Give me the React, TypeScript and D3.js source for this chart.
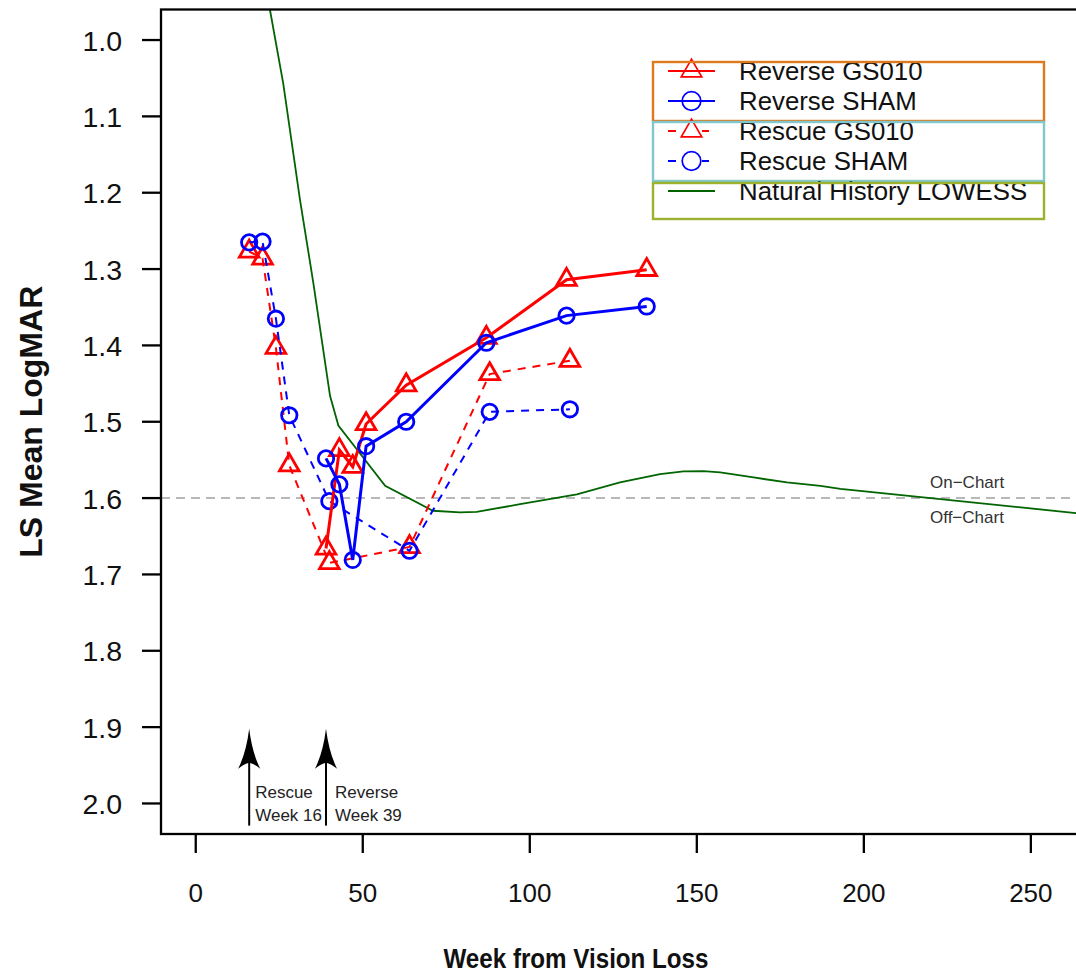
import React from "react";
import * as d3 from "d3";

// ---- Data ----
const reverseWeeks = [39, 43, 47, 51, 63, 87, 111, 135];
const reverseGS010 = [1.666, 1.537, 1.559, 1.503, 1.452, 1.39, 1.314, 1.301];
const reverseSHAM = [1.548, 1.582, 1.681, 1.532, 1.5, 1.3965, 1.361, 1.349];

const rescueWeeks = [16, 20, 24, 28, 40, 64, 88, 112];
const rescueGS010 = [1.277, 1.286, 1.403, 1.557, 1.685, 1.664, 1.4375, 1.42];
const rescueSHAM = [1.265, 1.264, 1.365, 1.4915, 1.604, 1.669, 1.487, 1.4837];

const nhWeeks = [20, 22.2, 26.2, 31.2, 35.2, 40.2, 42.7, 56.7, 71.0, 79.1, 84.1, 97.1, 114.1, 127.0, 139.0, 146.0, 152.0, 157.0, 167.0, 177.0, 187.0, 193.0, 220, 263.5, 275];
const nhValues = [0.905, 0.96, 1.057, 1.209, 1.318, 1.466, 1.505, 1.584, 1.6166, 1.6187, 1.618, 1.608, 1.595, 1.5795, 1.5686, 1.5651, 1.5647, 1.5664, 1.573, 1.5795, 1.584, 1.588, 1.6, 1.6196, 1.6245];

const xTicks = [0, 50, 100, 150, 200, 250];
const yTicks = [1.0, 1.1, 1.2, 1.3, 1.4, 1.5, 1.6, 1.7, 1.8, 1.9, 2.0];

const cutoff = 1.6;
const arrows = [
  { week: 16, lines: ["Rescue", "Week 16"], dx: 6 },
  { week: 39, lines: ["Reverse", "Week 39"], dx: 9 },
];

const legendGroups = [
  { color: "#DE7A1E", items: [
    { label: "Reverse GS010", color: "#FF0000", marker: "tri", dashed: false },
    { label: "Reverse SHAM", color: "#0000FF", marker: "circ", dashed: false },
  ] },
  { color: "#80C8CC", items: [
    { label: "Rescue GS010", color: "#FF0000", marker: "tri", dashed: true },
    { label: "Rescue SHAM", color: "#0000FF", marker: "circ", dashed: true },
  ] },
  { color: "#9CB12E", items: [
    { label: "Natural History LOWESS", color: "#006400", marker: "dot", dashed: false },
  ] },
];

const W = 1076;
const H = 978;
const FONT = "'Liberation Sans', Arial, Helvetica, sans-serif";

const left = 161;
const top = 9.5;
const bottom = 834;
const right = 1099;

const x = d3.scaleLinear().domain([-10.4, 270.4]).range([left, right]);
const y = d3.scaleLinear().domain([0.96, 2.04]).range([top, bottom]);

function triPath(cx: number, cy: number, s: number) {
  const r = 1.55512 * s, yc = 0.77756 * s, xc = 1.34677 * s;
  return `M${cx},${cy - r}L${cx + xc},${cy + yc}L${cx - xc},${cy + yc}Z`;
}

type Series = { weeks: number[]; values: number[]; color: string; marker: string; dashed: boolean };
const series: Series[] = [
  { weeks: rescueWeeks, values: rescueGS010, color: "#FF0000", marker: "tri", dashed: true },
  { weeks: rescueWeeks, values: rescueSHAM, color: "#0000FF", marker: "circ", dashed: true },
  { weeks: reverseWeeks, values: reverseGS010, color: "#FF0000", marker: "tri", dashed: false },
  { weeks: reverseWeeks, values: reverseSHAM, color: "#0000FF", marker: "circ", dashed: false },
];

export default function App() {
  const line = d3.line<[number, number]>().x((d) => x(d[0])).y((d) => y(d[1]));
  const nhPts: [number, number][] = nhWeeks.map((w, i) => [w, nhValues[i]]);

  const legX0 = 653, legX1 = 1044;
  const rowH = 30;
  let rowIdx = 0;
  const legendTop = 62;

  return (
    <svg width={W} height={H} style={{ position: "absolute", left: 0, top: 0, background: "#fff" }} fontFamily={FONT}>
      <rect x={0} y={0} width={W} height={H} fill="#fff" />
      <defs>
        <clipPath id="plot">
          <rect x={left} y={top} width={right - left} height={bottom - top} />
        </clipPath>
      </defs>

      {/* cutoff line */}
      <line x1={left} x2={right} y1={y(cutoff)} y2={y(cutoff)} stroke="#B8B8B8" strokeWidth={2} strokeDasharray="9,6" />
      <text x={930} y={y(cutoff) - 10} fontSize={17} fill="#333">On−Chart</text>
      <text x={930} y={y(cutoff) + 25} fontSize={17} fill="#333">Off−Chart</text>

      <g clipPath="url(#plot)">
        <path d={line(nhPts) || ""} fill="none" stroke="#006400" strokeWidth={1.8} />
        {series.map((s, si) => {
          const pts: [number, number][] = s.weeks.map((w, i) => [w, s.values[i]]);
          return (
            <g key={si}>
              <path d={line(pts) || ""} fill="none" stroke={s.color} strokeWidth={s.dashed ? 2 : 3} strokeDasharray={s.dashed ? "8,7" : undefined} />
              {pts.map((p, i) =>
                s.marker === "tri" ? (
                  <path key={i} d={triPath(x(p[0]), y(p[1]), 7.3)} fill="none" stroke={s.color} strokeWidth={2.8} />
                ) : (
                  <circle key={i} cx={x(p[0])} cy={y(p[1])} r={7.7} fill="none" stroke={s.color} strokeWidth={2.8} />
                )
              )}
            </g>
          );
        })}
      </g>

      {/* arrows */}
      {arrows.map((a, i) => {
        const ax = x(a.week);
        const yTip = y(1.902);
        const yBase = y(2.029);
        return (
          <g key={i}>
            <line x1={ax} x2={ax} y1={yTip + 30} y2={yBase} stroke="#000" strokeWidth={2} />
            <path
              d={`M${ax},${yTip} Q${ax - 3},${yTip + 24} ${ax - 11},${yTip + 40} Q${ax - 5},${yTip + 35} ${ax},${yTip + 34} Q${ax + 5},${yTip + 35} ${ax + 11},${yTip + 40} Q${ax + 3},${yTip + 24} ${ax},${yTip} Z`}
              fill="#000"
            />
            {a.lines.map((t, j) => (
              <text key={j} x={ax + a.dx} y={798 + j * 23} fontSize={17} fill="#222">{t}</text>
            ))}
          </g>
        );
      })}

      {/* box */}
      <rect x={left} y={top} width={right - left} height={bottom - top} fill="none" stroke="#000" strokeWidth={2.3} />

      {/* y axis */}
      {yTicks.map((t) => (
        <g key={t}>
          <line x1={left - 19} x2={left} y1={y(t)} y2={y(t)} stroke="#000" strokeWidth={2.3} />
          <text x={122} y={y(t) + 10.5} fontSize={28.5} textAnchor="end" fill="#111">{t.toFixed(1)}</text>
        </g>
      ))}
      {/* x axis */}
      {xTicks.map((t) => (
        <g key={t}>
          <line x1={x(t)} x2={x(t)} y1={bottom} y2={bottom + 19} stroke="#000" strokeWidth={2.3} />
          <text x={x(t)} y={901.5} fontSize={26} textAnchor="middle" fill="#111">{t}</text>
        </g>
      ))}

      <text transform={`translate(41.5,${(top + bottom) / 2}) rotate(-90)`} fontSize={32} fontWeight="bold" textAnchor="middle" fill="#111">LS Mean LogMAR</text>
      <text x={576} y={968} fontSize={28} fontWeight="bold" textAnchor="middle" textLength={265} lengthAdjust="spacingAndGlyphs" fill="#111">Week from Vision Loss</text>

      {/* legend */}
      {legendGroups.map((g, gi) => {
        const startRow = rowIdx;
        const n = g.items.length;
        rowIdx += n;
        const y0 = legendTop + startRow * rowH - (gi === 2 ? -1 : 0);
        const boxH = gi === 2 ? 36 : n * rowH - 1;
        return (
          <g key={gi}>
            {g.items.map((it, ii) => {
              const cy = 71 + (startRow + ii) * rowH;
              const mx = 691.5;
              return (
                <g key={ii}>
                  {it.dashed ? (
                    <>
                      <line x1={668} x2={676} y1={cy} y2={cy} stroke={it.color} strokeWidth={2} />
                      <line x1={702} x2={709} y1={cy} y2={cy} stroke={it.color} strokeWidth={2} />
                    </>
                  ) : (
                    <line x1={668} x2={715} y1={cy} y2={cy} stroke={it.color} strokeWidth={2} />
                  )}
                  {it.marker === "tri" && <path d={triPath(mx, cy, 7.6)} fill="none" stroke={it.color} strokeWidth={1.7} />}
                  {it.marker === "circ" && <circle cx={mx} cy={cy} r={9.3} fill="none" stroke={it.color} strokeWidth={1.7} />}
                  {it.marker === "dot" && <rect x={mx - 1} y={cy - 1} width={2} height={2} fill={it.color} />}
                  <text x={739} y={cy + 8.8} fontSize={25.8} fill="#111">{it.label}</text>
                </g>
              );
            })}
            <rect x={legX0} y={y0} width={legX1 - legX0} height={boxH} fill="none" stroke={g.color} strokeWidth={2.4} />
          </g>
        );
      })}
    </svg>
  );
}
